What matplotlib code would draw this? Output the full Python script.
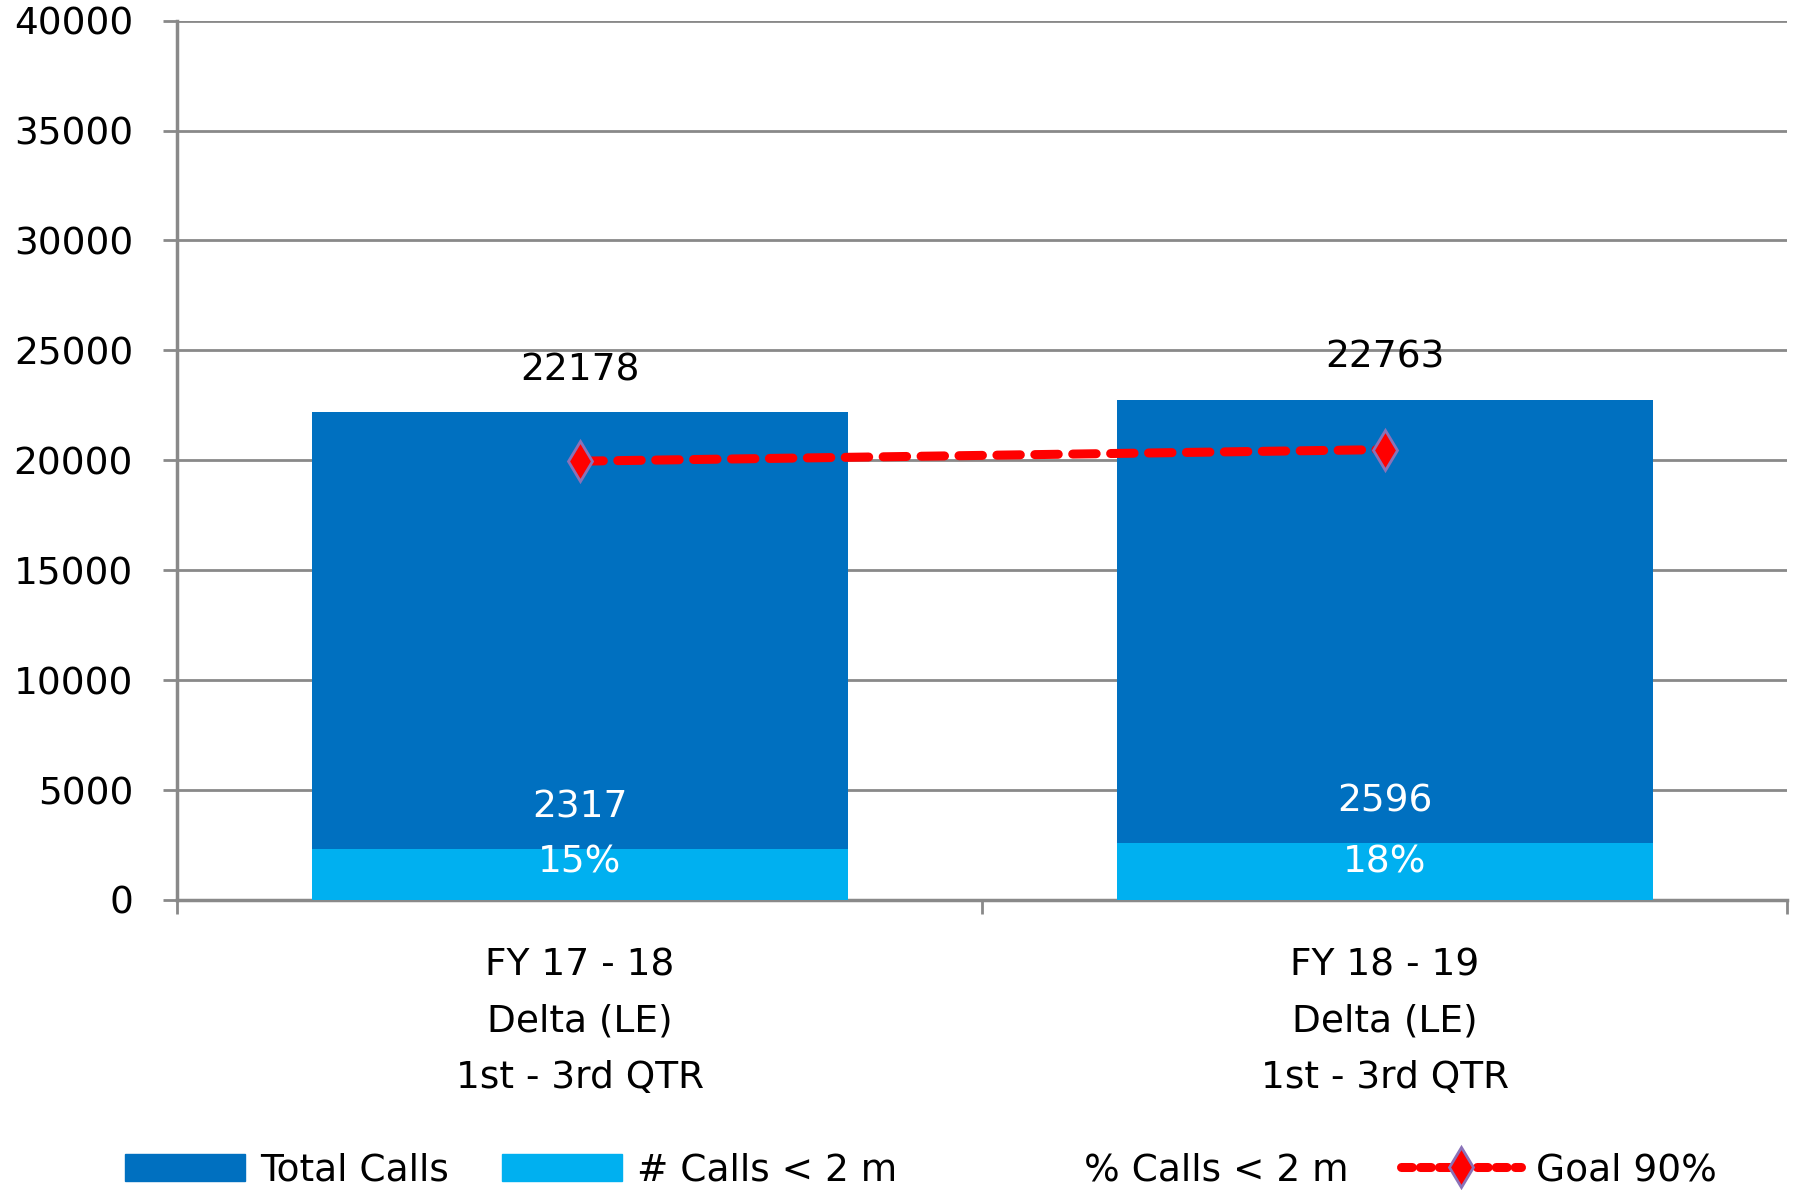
import matplotlib.pyplot as plt
from matplotlib.patches import Patch
from matplotlib.lines import Line2D

plt.rcParams['font.family'] = ['DejaVu Sans']

# data
categories = ['FY 17 - 18\nDelta (LE)\n1st - 3rd QTR', 'FY 18 - 19\nDelta (LE)\n1st - 3rd QTR']
total_calls = [22178, 22763]
calls_under_2m = [2317, 2596]
pct_labels = ['15%', '18%']
goal_90 = [19960, 20487]

dark_blue = '#0070C0'
light_blue = '#00B0F0'
grid_gray = '#898989'

fig = plt.figure(figsize=(17.96, 11.90), dpi=100)
ax = fig.add_axes([0.0988, 0.2437, 0.8962, 0.739])

x = list(range(len(categories)))
bw = 0.666

ax.bar(x, total_calls, width=bw, color=dark_blue, zorder=2)
ax.bar(x, calls_under_2m, width=bw, color=light_blue, zorder=3)
ax.plot(x, goal_90, color='red', linestyle=(0, (2.6, 1.6)), linewidth=6.5,
        dash_capstyle='round', marker='d', markersize=20,
        markerfacecolor='red', markeredgecolor='#8a72b8', markeredgewidth=2,
        zorder=4)

fs = 27
for i in x:
    ax.annotate(str(total_calls[i]), (i, total_calls[i]), xytext=(0, 30),
                textcoords='offset points', ha='center', va='center', fontsize=fs)
    ax.annotate(str(calls_under_2m[i]), (i, calls_under_2m[i]), xytext=(0, 30),
                textcoords='offset points', ha='center', va='center',
                fontsize=fs, color='white', zorder=5)
    ax.annotate(pct_labels[i], (i, 0), xytext=(0, 27),
                textcoords='offset points', ha='center', va='center',
                fontsize=fs, color='white', zorder=5)

ax.set_xlim(-0.5, 1.5)
ax.set_ylim(0, 40000)
ax.set_yticks(range(0, 40001, 5000))
ax.yaxis.grid(True, color=grid_gray, linewidth=2, zorder=0)
ax.set_axisbelow(True)

ax.set_xticks(x)
ax.set_xticklabels(categories, fontsize=fs, linespacing=1.72)
ax.set_xticks([-0.5, 0.5, 1.5], minor=True)
ax.tick_params(axis='x', which='major', length=0, pad=34)
ax.tick_params(axis='x', which='minor', length=10, width=2, color=grid_gray, direction='out')
ax.tick_params(axis='y', length=10, width=2, color=grid_gray, labelsize=fs, pad=22)

for s in ['top', 'right']:
    ax.spines[s].set_visible(False)
for s in ['left', 'bottom']:
    ax.spines[s].set_color(grid_gray)
    ax.spines[s].set_linewidth(2.5)

handles = [
    Patch(color=dark_blue),
    Patch(color=light_blue),
    Line2D([], [], linestyle='none'),
    Line2D([], [], color='red', linestyle=(0, (1.2, 0.9)), linewidth=6.5,
           dash_capstyle='round', marker='d', markersize=20,
           markerfacecolor='red', markeredgecolor='#8a72b8', markeredgewidth=2),
]
labels = ['Total Calls', '# Calls < 2 m', '% Calls < 2 m', 'Goal 90%']
fig.legend(handles, labels, loc='lower center', bbox_to_anchor=(0.513, -0.027),
           ncol=4, frameon=False, fontsize=fs, handlelength=3.2,
           handleheight=0.75, handletextpad=0.4, columnspacing=1.4)

fig.savefig('out.png', dpi=100)
